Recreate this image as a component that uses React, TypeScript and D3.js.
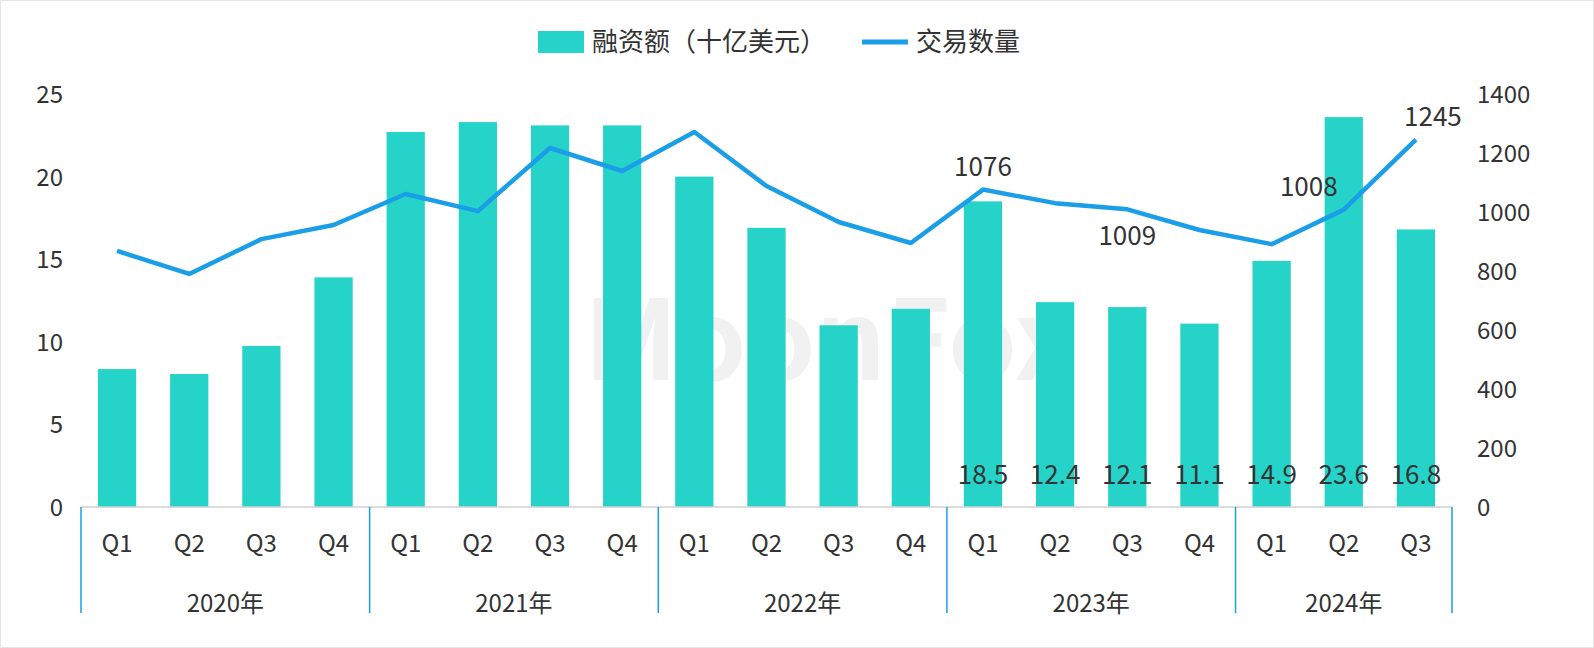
import * as d3 from "d3";

const years = ["2020年", "2021年", "2022年", "2023年", "2024年"];
const quarters = [
  ["Q1", "Q2", "Q3", "Q4"],
  ["Q1", "Q2", "Q3", "Q4"],
  ["Q1", "Q2", "Q3", "Q4"],
  ["Q1", "Q2", "Q3", "Q4"],
  ["Q1", "Q2", "Q3"],
];
const funding = [8.35, 8.05, 9.75, 13.9, 22.7, 23.3, 23.1, 23.1, 20.0, 16.9, 11.0, 12.0, 18.5, 12.4, 12.1, 11.1, 14.9, 23.6, 16.8];
const deals = [868, 790, 908, 956, 1061, 1003, 1217, 1139, 1271, 1088, 966, 895, 1076, 1030, 1009, 939, 891, 1008, 1245];
// which points carry labels, and where
const dealLabels: { i: number; pos: "above" | "below" | "aboveLeft" }[] = [
  { i: 12, pos: "above" },
  { i: 14, pos: "below" },
  { i: 17, pos: "aboveLeft" },
  { i: 18, pos: "above" },
];
const fundingLabelFrom = 12;
const leftTicks = [0, 5, 10, 15, 20, 25];
const rightTicks = [0, 200, 400, 600, 800, 1000, 1200, 1400];

const W = 1594, H = 648;
const BAR = "#26d3c9", LINE = "#1b9ee8", TXT = "#333";
const FONT = "'Noto Sans CJK SC', 'Noto Sans', sans-serif";

export default function App() {
  const cats = funding.map((_, i) => String(i));
  const x = d3.scaleBand().domain(cats).range([81, 1452]).paddingInner(0.47).paddingOuter(0.235);
  const yL = d3.scaleLinear().domain([0, 25]).range([507, 94]);
  const yR = d3.scaleLinear().domain([0, 1400]).range([507, 94]);
  const cx = (i: number) => (x(String(i)) ?? 0) + x.bandwidth() / 2;
  const line = d3.line<number>().x((_, i) => cx(i)).y((d) => yR(d));

  // group boundaries
  const bounds: number[] = [];
  let k = 0;
  bounds.push(81);
  quarters.forEach((q) => {
    k += q.length;
    bounds.push(k < funding.length ? (x(String(k)) ?? 0) - (x.step() - x.bandwidth()) / 2 : 1452);
  });
  const step = x.step();
  let qi = 0;

  return (
    <svg width={W} height={H} style={{ position: "absolute", left: 0, top: 0, fontFamily: FONT }}>
      <rect x={0.5} y={0.5} width={W - 1} height={H - 1} fill="#fff" stroke="#e5e5e5" />
      <text x={830} y={380} textAnchor="middle" fontSize={110} fontWeight={700} fill="#000" opacity={0.05}>MoonFox</text>
      {/* legend */}
      <rect x={538} y={31} width={46} height={22} fill={BAR} />
      <text x={592} y={51} fontSize={26} fill={TXT}>融资额（十亿美元）</text>
      <line x1={862} x2={908} y1={42} y2={42} stroke={LINE} strokeWidth={5} />
      <text x={916} y={51} fontSize={26} fill={TXT}>交易数量</text>

      {leftTicks.map((t) => (
        <text key={t} x={63} y={yL(t) + 9} textAnchor="end" fontSize={24} fill={TXT}>{t}</text>
      ))}
      {rightTicks.map((t) => (
        <text key={t} x={1477} y={yR(t) + 9} fontSize={24} fill={TXT}>{t}</text>
      ))}

      {funding.map((v, i) => (
        <rect key={i} x={x(String(i))} y={yL(v)} width={x.bandwidth()} height={yL(0) - yL(v)} fill={BAR} />
      ))}
      <line x1={81} x2={1452} y1={507} y2={507} stroke="#d0d0d0" strokeWidth={1.5} />

      <path d={line(deals) ?? ""} fill="none" stroke={LINE} strokeWidth={4.5} strokeLinejoin="round" />

      {funding.map((v, i) =>
        i >= fundingLabelFrom ? (
          <text key={i} x={cx(i)} y={484} textAnchor="middle" fontSize={26} fill={TXT}>{v.toFixed(1)}</text>
        ) : null
      )}
      {dealLabels.map(({ i, pos }) => {
        const px = cx(i) + (pos === "aboveLeft" ? -35 : pos === "above" && i === 18 ? 17 : 0);
        const py = pos === "below" ? yR(deals[i]) + 36 : yR(deals[i]) - 14;
        return <text key={i} x={px} y={py} textAnchor="middle" fontSize={26} fill={TXT}>{deals[i]}</text>;
      })}

      {bounds.map((b, i) => (
        <line key={i} x1={b} x2={b} y1={507} y2={613} stroke={LINE} strokeWidth={1.5} />
      ))}
      {quarters.map((qs, g) =>
        qs.map((q) => {
          const i = qi++;
          return <text key={`${g}-${q}`} x={cx(i)} y={552} textAnchor="middle" fontSize={24} fill={TXT}>{q}</text>;
        })
      )}
      {years.map((y, g) => (
        <text key={y} x={(bounds[g] + bounds[g + 1]) / 2} y={612} textAnchor="middle" fontSize={24} fill={TXT}>{y}</text>
      ))}
      {void step}
    </svg>
  );
}
